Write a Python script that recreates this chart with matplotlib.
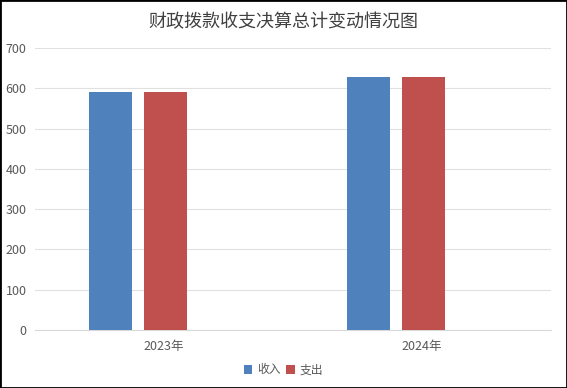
import matplotlib
matplotlib.use("Agg")
import matplotlib.pyplot as plt
from matplotlib.patches import Rectangle
import numpy as np

plt.rcParams['font.family'] = ['Noto Sans CJK SC', 'DejaVu Sans']

title = "财政拨款收支决算总计变动情况图"
categories = ["2023年", "2024年"]
series_names = ["收入", "支出"]
income = [591, 628]
expense = [591, 628]
colors = ["#4f81bd", "#c0504d"]
yticks = [0, 100, 200, 300, 400, 500, 600, 700]

fig = plt.figure(figsize=(5.67, 3.88), dpi=100)
ax = fig.add_axes([35/567, 1-330/388, 516/567, (330-48)/388])

x = np.arange(len(categories))
w = 43/258
shift = 1.5/258
ax.bar(x - 55/258 + shift, income, width=w, color=colors[0], label=series_names[0], zorder=3)
ax.bar(x + shift, expense, width=w, color=colors[1], label=series_names[1], zorder=3)

ax.set_xlim(-0.5, 1.5)
ax.set_ylim(0, 700)
ax.set_yticks(yticks)
ax.set_xticks(x)
ax.set_xticklabels(categories)
ax.grid(axis='y', color='#e0e0e0', linewidth=0.8, zorder=0)
for s in ['top', 'right', 'left']:
    ax.spines[s].set_visible(False)
ax.spines['bottom'].set_color('#d9d9d9')
ax.tick_params(axis='both', length=0, labelsize=9, colors='#595959', pad=6)
ax.tick_params(axis='x', pad=7)

fig.text(0.5, 1-22/388, title, ha='center', va='center', fontsize=13, color='#404040')

leg = fig.legend(loc='center', bbox_to_anchor=(0.5, 1-370/388), ncol=2, frameon=False,
                 fontsize=8.5, handlelength=0.7, handleheight=0.7, handletextpad=0.4,
                 columnspacing=0.5)
for t in leg.get_texts():
    t.set_color('#595959')

fig.patches.append(Rectangle((0, 0), 1, 1, transform=fig.transFigure, fill=False,
                             edgecolor='black', linewidth=2))
fig.savefig("out.png", dpi=100)
